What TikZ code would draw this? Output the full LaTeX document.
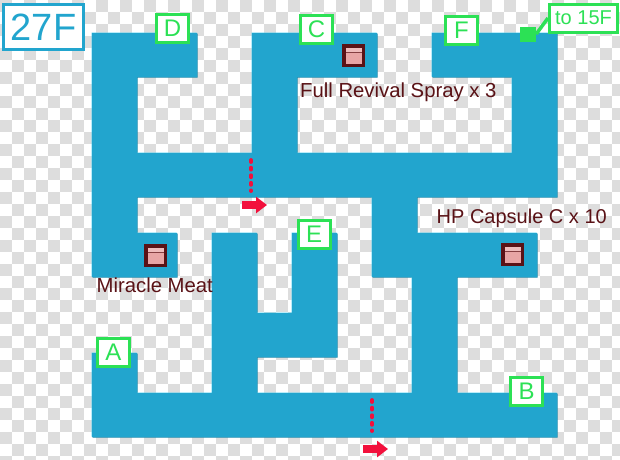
\documentclass[tikz,border=0pt]{standalone}
\usepackage{fontspec}
\setmainfont{Liberation Sans}
\usetikzlibrary{arrows.meta}
\definecolor{Room}{HTML}{22A5CE}
\definecolor{RoomLight}{HTML}{40CDF2}
\definecolor{RoomDark}{HTML}{1C86A8}
\definecolor{Mark}{HTML}{2CE155}
\definecolor{Loot}{HTML}{5A1216}
\definecolor{Chest}{HTML}{E8A5A5}
\definecolor{Route}{HTML}{F2103C}
\definecolor{Check}{HTML}{DDDDDD}
\newcommand{\floorpath}{(92,33)--(197,33)--(197,77)--(137,77)--(137,153)--(252,153)--(252,33)--(377,33)--(377,77)--(297,77)--(297,153)--(512,153)--(512,77)--(432,77)--(432,33)--(557,33)--(557,197)--(417,197)--(417,233)--(537,233)--(537,277)--(457,277)--(457,393)--(557,393)--(557,437)--(92,437)--(92,353)--(137,353)--(137,393)--(212,393)--(212,233)--(257,233)--(257,313)--(292,313)--(292,233)--(337,233)--(337,357)--(257,357)--(257,393)--(412,393)--(412,277)--(372,277)--(372,197)--(137,197)--(137,233)--(177,233)--(177,277)--(92,277)--cycle}

\begin{document}
\begin{tikzpicture}[x=1pt,y=-1pt,
  tag/.style={draw=Mark,fill=white,line width=3pt,minimum width=32pt,minimum height=28pt,inner sep=0pt,text=Mark,font=\fontsize{24}{24}\selectfont},
  loot/.style={anchor=base west,inner sep=0pt,text=Loot,font=\fontsize{20.3}{20.3}\selectfont},
  chest/.style={draw=Loot,fill=Chest,line width=3.5pt,minimum size=19.5pt,inner sep=0pt,
    path picture={\fill[Chest!75!white](path picture bounding box.north west) rectangle ([yshift=-6pt]path picture bounding box.north east);
      \draw[Loot!70!Chest,line width=.8pt]([yshift=-6.5pt]path picture bounding box.north west)--([yshift=-6.5pt]path picture bounding box.north east);}},
  gate/.style={Route,line width=3.8pt,line cap=round,dash pattern=on 2pt off 5.6pt},
  way/.style={Route,line width=7.5pt,-{Triangle[length=11pt,width=16pt]}}]
\useasboundingbox (0,0) rectangle (620,459);
\fill[white] (0,0) rectangle (620,459);
% checks
\foreach \i in {0,...,51}
  \foreach \j in {0,...,38} {
    \pgfmathtruncatemacro{\odd}{mod(\i+\j,2)}
    \ifnum\odd=0 \fill[Check] (12*\i,12*\j) rectangle (12*\i+12,12*\j+12); \fi
  }
% floor
\fill[RoomDark,shift={(0.5,0.5)}] \floorpath;
\fill[RoomLight,shift={(-0.5,-0.5)}] \floorpath;
\fill[Room] \floorpath;
% floor name
\node[draw=Room,fill=white,line width=3pt,minimum width=80pt,minimum height=45pt,inner sep=0pt,text=Room,font=\fontsize{38}{38}\selectfont](floor) at (43.5,27){27F};
% chests
\node[chest](chestC) at (353.5,55.5){};
\node[chest](chestM) at (155.5,255.5){};
\node[chest](chestH) at (512.5,254.5){};
\node[loot] (lootC) at (300,97){Full Revival Spray x 3};
\node[loot] (lootM) at (96.5,292){Miracle Meat};
\node[loot,font=\fontsize{20}{20}\selectfont] (lootH) at (436.5,223){HP Capsule C x 10};
% gates
\coordinate (gateAtop) at (251,160);
\coordinate (gateAbot) at (251,191);
\coordinate (gateBtop) at (372,400);
\coordinate (gateBbot) at (372,431);
\coordinate (wayAs) at (242,205);
\coordinate (wayAe) at (267,205);
\coordinate (wayBs) at (363,449);
\coordinate (wayBe) at (388,449);
\draw[gate](gateAtop)--(gateAbot);
\draw[gate](gateBtop)--(gateBbot);
\draw[way](wayAs)--(wayAe);
\draw[way](wayBs)--(wayBe);
% warps
\node[tag](tagD) at (172.5,28.5){D};
\node[tag](tagC) at (316.5,29.5){C};
\node[tag](tagF) at (461.5,30.5){F};
\node[tag](tagE) at (314,234.5){E};
\node[tag](tagA) at (113.5,352.5){A};
\node[tag](tagB) at (526.5,391.5){B};
\node[fill=Mark,minimum width=16pt,minimum height=15pt,inner sep=0pt](stairs) at (528,34){};
\node[tag,minimum width=68pt,font=\fontsize{20}{20}\selectfont](tagUp) at (583.5,18){to 15F};
\draw[Mark,line width=3.5pt](stairs.east)--(tagUp.west);
\end{tikzpicture}
\end{document}
